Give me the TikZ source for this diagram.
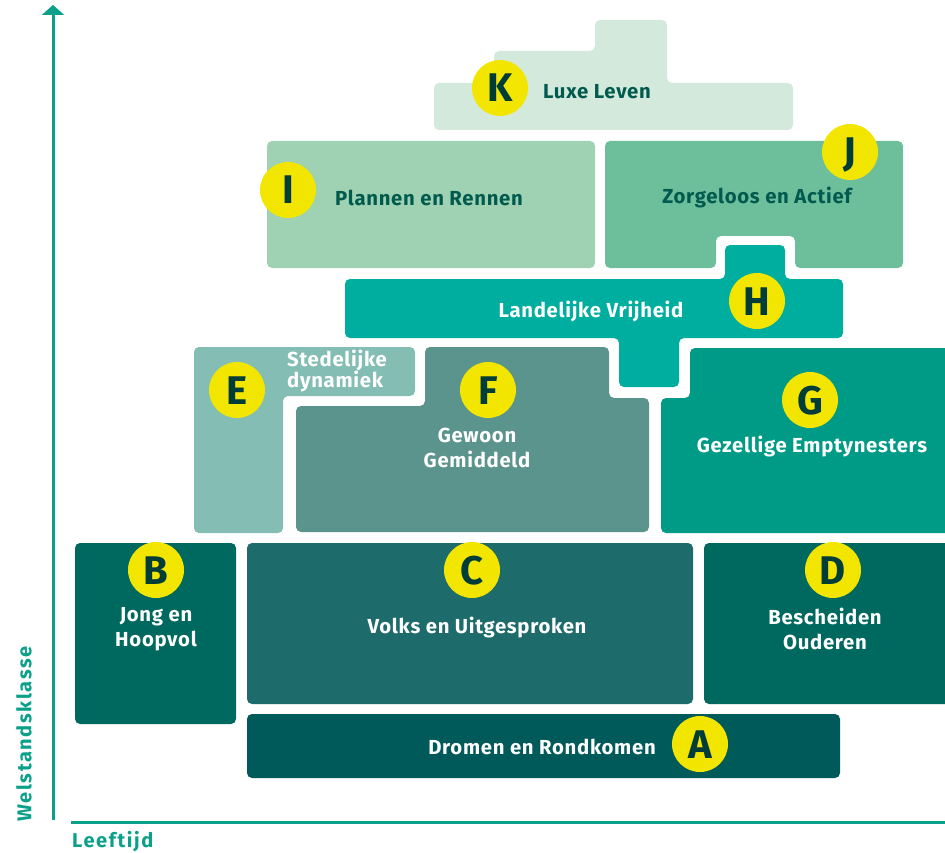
\documentclass[tikz,border=0pt]{standalone}
\usepackage{fontspec}
\setmainfont{Fira Sans}
\newfontfamily\lblfont[LetterSpace=3.5]{Fira Sans}
\newfontfamily\axfont[LetterSpace=8]{Fira Sans}
\usetikzlibrary{arrows.meta}
\definecolor{axiscol}{HTML}{0AA08A}
\definecolor{acol}{HTML}{005A5A}
\definecolor{bcol}{HTML}{00695F}
\definecolor{ccol}{HTML}{1D6B6B}
\definecolor{ecol}{HTML}{84BDB3}
\definecolor{fcol}{HTML}{5A948C}
\definecolor{gcol}{HTML}{009B87}
\definecolor{hcol}{HTML}{00AE9F}
\definecolor{icol}{HTML}{9ED2B2}
\definecolor{jcol}{HTML}{6DBF9C}
\definecolor{kcol}{HTML}{D3E9DC}
\definecolor{ybadge}{HTML}{F2E500}
\definecolor{bletter}{HTML}{003D38}
\definecolor{dtext}{HTML}{005A4E}
\begin{document}
\begin{tikzpicture}[x=1pt,y=-1pt,
  lbl/.style={font=\lblfont\fontsize{20.3}{25.5}\selectfont\bfseries, text=white, align=center, inner sep=0pt},
  dlbl/.style={lbl, text=dtext},
  badge/.style={circle, fill=ybadge, minimum size=56pt, inner sep=0pt, text height=28pt, text depth=0pt,
    font=\fontsize{40}{40}\selectfont\bfseries, text=bletter},
  blk/.style={rounded corners=5pt},
  axisline/.style={draw=axiscol, line width=3pt},
  axislbl/.style={font=\axfont\fontsize{20}{22}\selectfont\bfseries, text=axiscol, inner sep=0pt}]
\useasboundingbox (0,0) rectangle (945,853);
\clip (0,0) rectangle (945,853);
% shapes
\fill[kcol, blk] (434,83) -- (494,83) -- (494,51) -- (595,51) -- (595,20) -- (667,20) -- (667,83) -- (793,83) -- (793,130) -- (434,130) -- cycle;
\fill[icol, blk] (267,141) rectangle (595,268);
\fill[jcol, blk] (605,141) -- (903,141) -- (903,268) -- (795,268) -- (795,236) -- (716,236) -- (716,268) -- (605,268) -- cycle;
\fill[hcol, blk] (345,279) -- (725,279) -- (725,245) -- (785,245) -- (785,279) -- (843,279) -- (843,338) -- (679,338) -- (679,387) -- (619,387) -- (619,338) -- (345,338) -- cycle;
\fill[ecol, blk] (194,347) -- (415,347) -- (415,396) -- (283,396) -- (283,533) -- (194,533) -- cycle;
\fill[fcol, blk] (425,347) -- (609,347) -- (609,398) -- (649,398) -- (649,532) -- (296,532) -- (296,406) -- (425,406) -- cycle;
\fill[gcol, blk] (690,348) -- (960,348) -- (960,533) -- (661,533) -- (661,398) -- (690,398) -- cycle;
\fill[bcol, blk] (75,543) rectangle (236,724);
\fill[ccol, blk] (247,543) rectangle (693,704);
\fill[bcol, blk] (704,543) rectangle (960,704);
\fill[acol, blk] (247,714) rectangle (840,778);
% labels
\node[dlbl] (tK) at (597,92) {Luxe Leven};
\node[dlbl] (tI) at (429,198) {Plannen en Rennen};
\node[dlbl] (tJ) at (757,198) {Zorgeloos en Actief};
\node[lbl] (tH) at (591,312) {Landelijke Vrijheid};
\node[lbl, align=left, anchor=west, font=\lblfont\fontsize{20.3}{21}\selectfont\bfseries] (tE) at (287,371) {Stedelijke\\dynamiek};
\node[lbl] (tF) at (477,448) {Gewoon\\Gemiddeld};
\node[lbl] (tG) at (812,447) {Gezellige Emptynesters};
\node[lbl] (tB) at (156,629) {Jong en\\Hoopvol};
\node[lbl] (tC) at (477,628) {Volks en Uitgesproken};
\node[lbl] (tD) at (825,629) {Bescheiden\\Ouderen};
\node[lbl] (tA) at (542,747) {Dromen en Rondkomen};
% badges
\node[badge] (bK) at (500,88) {K};
\node[badge] (bI) at (288,190) {I};
\node[badge] (bJ) at (850,152) {J};
\node[badge] (bH) at (757,301) {H};
\node[badge] (bE) at (237,390) {E};
\node[badge] (bF) at (488,390) {F};
\node[badge] (bG) at (810,400) {G};
\node[badge] (bB) at (156,570) {B};
\node[badge] (bC) at (472,570) {C};
\node[badge] (bD) at (833,570) {D};
\node[badge] (bA) at (700,744) {A};
% axes
\coordinate (ybot) at (53,820);
\coordinate (ytop) at (53,5);
\coordinate (xleft) at (71,822);
\coordinate (xright) at (945,822);
\draw[axisline, -{Triangle[width=22pt,length=10pt]}] (ybot) -- (ytop);
\draw[axisline] (xleft) -- (xright);
\node[axislbl, rotate=90] (ylbl) at (24,734) {Welstandsklasse};
\node[axislbl, anchor=west] (xlbl) at (72,842) {Leeftijd};
\end{tikzpicture}
\end{document}
